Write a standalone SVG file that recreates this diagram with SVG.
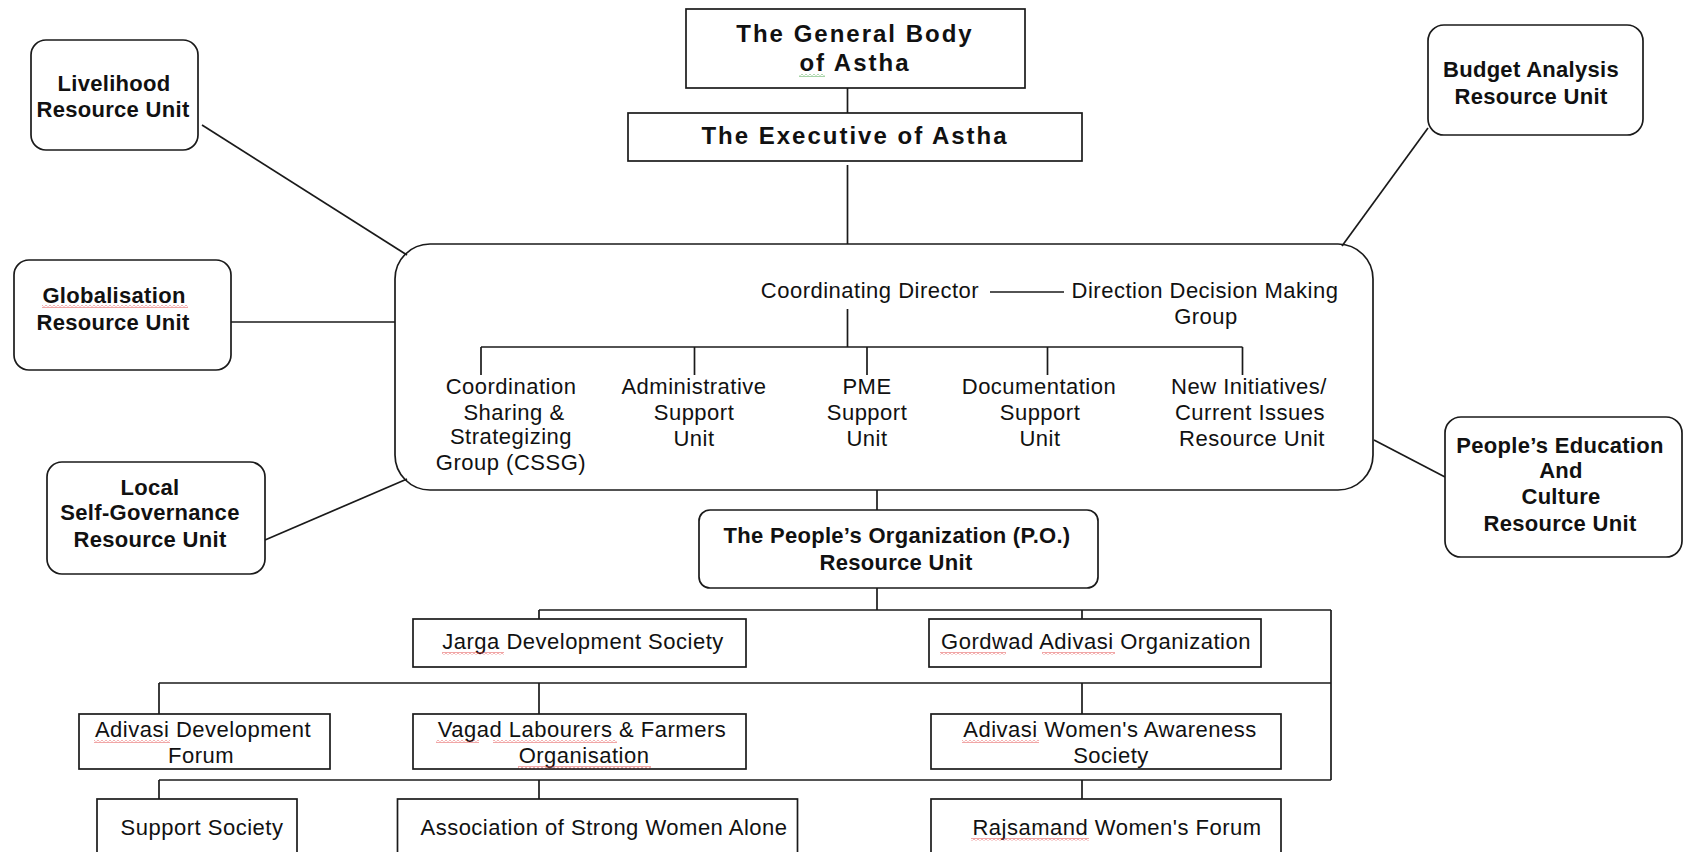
<svg xmlns="http://www.w3.org/2000/svg" width="1686" height="852" viewBox="0 0 1686 852">
<style>
  .box { fill: #fff; stroke: #1a1a1a; stroke-width: 1.7; }
  .ln { fill: none; stroke: #1a1a1a; stroke-width: 1.7; }
  text { font-family: "Liberation Sans", Arial, sans-serif; fill: #111; text-anchor: middle; }
  .b { font-weight: bold; font-size: 22px; letter-spacing: 0.3px; }
  .h { font-weight: bold; font-size: 24px; letter-spacing: 2px; }
  .r { font-size: 22px; letter-spacing: 0.5px; }
  .sq { fill: url(#sqR); }
  .sg { fill: url(#sqG); }
</style>
<defs>
  <pattern id="sqR" patternUnits="userSpaceOnUse" x="0" y="0" width="4" height="3">
    <path d="M0,0.5 L2,2.5 L4,0.5" fill="none" stroke="#e03a3a" stroke-width="0.9"/>
  </pattern>
  <pattern id="sqG" patternUnits="userSpaceOnUse" x="0" y="0" width="4" height="3">
    <path d="M0,0.5 L2,2.5 L4,0.5" fill="none" stroke="#3aa03a" stroke-width="0.9"/>
  </pattern>
</defs>
<rect width="1686" height="852" fill="#fff"/>

<g id="coordination-box">
  <rect class="box" x="395" y="244" width="978" height="246" rx="35"/>
</g>

<g id="connectors">
  <line class="ln" x1="847.5" y1="88" x2="847.5" y2="113"/>
  <line class="ln" x1="847.5" y1="165" x2="847.5" y2="244"/>
  <line class="ln" x1="202" y1="125" x2="407" y2="255"/>
  <line class="ln" x1="231" y1="322" x2="395" y2="322"/>
  <line class="ln" x1="265" y1="540" x2="407" y2="479"/>
  <line class="ln" x1="1428" y1="128" x2="1342" y2="246"/>
  <line class="ln" x1="1374" y1="440" x2="1445" y2="477"/>
  <!-- inside coordinating box -->
  <line class="ln" x1="990" y1="292" x2="1064" y2="292"/>
  <line class="ln" x1="847.5" y1="309" x2="847.5" y2="347"/>
  <line class="ln" x1="481" y1="347" x2="1242.5" y2="347"/>
  <line class="ln" x1="481" y1="347" x2="481" y2="375"/>
  <line class="ln" x1="694.5" y1="347" x2="694.5" y2="375"/>
  <line class="ln" x1="867" y1="347" x2="867" y2="375"/>
  <line class="ln" x1="1047.5" y1="347" x2="1047.5" y2="375"/>
  <line class="ln" x1="1242.5" y1="347" x2="1242.5" y2="375"/>
  <!-- to PO -->
  <line class="ln" x1="877" y1="490" x2="877" y2="510"/>
  <!-- lower tree -->
  <line class="ln" x1="877" y1="588" x2="877" y2="610"/>
  <line class="ln" x1="539" y1="610" x2="1331" y2="610"/>
  <line class="ln" x1="1331" y1="610" x2="1331" y2="780"/>
  <line class="ln" x1="539" y1="610" x2="539" y2="619"/>
  <line class="ln" x1="1082" y1="610" x2="1082" y2="619"/>
  <line class="ln" x1="159" y1="683" x2="1331" y2="683"/>
  <line class="ln" x1="159" y1="683" x2="159" y2="714"/>
  <line class="ln" x1="539" y1="683" x2="539" y2="714"/>
  <line class="ln" x1="1082" y1="683" x2="1082" y2="714"/>
  <line class="ln" x1="159" y1="780" x2="1331" y2="780"/>
  <line class="ln" x1="159" y1="780" x2="159" y2="799"/>
  <line class="ln" x1="539" y1="780" x2="539" y2="799"/>
  <line class="ln" x1="1082" y1="780" x2="1082" y2="799"/>
</g>

<g id="general-body">
  <rect class="box" x="686" y="9" width="339" height="79"/>
  <text class="h" x="855" y="42">The General Body</text>
  <text class="h" x="855" y="71">of Astha</text>
  <rect class="sg" x="799" y="74" width="26" height="3"/>
</g>

<g id="executive">
  <rect class="box" x="628" y="113" width="454" height="48"/>
  <text class="h" x="855" y="144">The Executive of Astha</text>
</g>

<g id="livelihood">
  <rect class="box" x="31" y="40" width="167" height="110" rx="15"/>
  <text class="b" x="114" y="91">Livelihood</text>
  <text class="b" x="113" y="117">Resource Unit</text>
</g>

<g id="globalisation">
  <rect class="box" x="14" y="260" width="217" height="110" rx="15"/>
  <text class="b" x="114" y="303">Globalisation</text>
  <text class="b" x="113" y="330">Resource Unit</text>
  <rect class="sq" x="42" y="305" width="146" height="3"/>
</g>

<g id="local-self-governance">
  <rect class="box" x="47" y="462" width="218" height="112" rx="15"/>
  <text class="b" x="150" y="495">Local</text>
  <text class="b" x="150" y="520">Self-Governance</text>
  <text class="b" x="150" y="547">Resource Unit</text>
</g>

<g id="budget-analysis">
  <rect class="box" x="1428" y="25" width="215" height="110" rx="16"/>
  <text class="b" x="1531" y="77">Budget Analysis</text>
  <text class="b" x="1531" y="104">Resource Unit</text>
</g>

<g id="peoples-education">
  <rect class="box" x="1445" y="417" width="237" height="140" rx="16"/>
  <text class="b" x="1560" y="453">People’s Education</text>
  <text class="b" x="1561" y="478">And</text>
  <text class="b" x="1561" y="504">Culture</text>
  <text class="b" x="1560" y="531">Resource Unit</text>
</g>

<g id="coordinating-director">
  <text class="r" x="870" y="298">Coordinating Director</text>
</g>

<g id="direction-group">
  <text class="r" x="1205" y="298">Direction Decision Making</text>
  <text class="r" x="1206" y="324">Group</text>
</g>

<g id="cssg">
  <text class="r" x="511" y="394">Coordination</text>
  <text class="r" x="514" y="420">Sharing &amp;</text>
  <text class="r" x="511" y="444">Strategizing</text>
  <text class="r" x="511" y="470">Group (CSSG)</text>
</g>

<g id="administrative">
  <text class="r" x="694" y="394">Administrative</text>
  <text class="r" x="694" y="420">Support</text>
  <text class="r" x="694" y="446">Unit</text>
</g>

<g id="pme">
  <text class="r" x="867" y="394">PME</text>
  <text class="r" x="867" y="420">Support</text>
  <text class="r" x="867" y="446">Unit</text>
</g>

<g id="documentation">
  <text class="r" x="1039" y="394">Documentation</text>
  <text class="r" x="1040" y="420">Support</text>
  <text class="r" x="1040" y="446">Unit</text>
</g>

<g id="new-initiatives">
  <text class="r" x="1249" y="394">New Initiatives/</text>
  <text class="r" x="1250" y="420">Current Issues</text>
  <text class="r" x="1252" y="446">Resource Unit</text>
</g>

<g id="peoples-organization">
  <rect class="box" x="699" y="510" width="399" height="78" rx="11"/>
  <text class="b" x="897" y="543">The People’s Organization (P.O.)</text>
  <text class="b" x="896" y="570">Resource Unit</text>
</g>

<g id="jarga">
  <rect class="box" x="413" y="619" width="333" height="48"/>
  <text class="r" x="583" y="649">Jarga Development Society</text>
  <rect class="sq" x="442" y="652" width="62" height="3"/>
</g>

<g id="gordwad">
  <rect class="box" x="929" y="619" width="332" height="48"/>
  <text class="r" x="1096" y="649">Gordwad Adivasi Organization</text>
  <rect class="sq" x="940" y="652" width="66" height="3"/>
  <rect class="sq" x="1042" y="652" width="73" height="3"/>
</g>

<g id="adivasi-development">
  <rect class="box" x="79" y="714" width="251" height="55"/>
  <text class="r" x="203" y="737">Adivasi Development</text>
  <text class="r" x="201" y="763">Forum</text>
  <rect class="sq" x="94" y="740" width="76" height="3"/>
</g>

<g id="vagad">
  <rect class="box" x="413" y="714" width="333" height="55"/>
  <text class="r" x="582" y="737">Vagad Labourers &amp; Farmers</text>
  <text class="r" x="584" y="763">Organisation</text>
  <rect class="sq" x="436" y="740" width="43" height="3"/>
  <rect class="sq" x="493" y="740" width="124" height="3"/>
  <rect class="sq" x="518" y="766" width="133" height="3"/>
</g>

<g id="adivasi-womens">
  <rect class="box" x="931" y="714" width="350" height="55"/>
  <text class="r" x="1110" y="737">Adivasi Women's Awareness</text>
  <text class="r" x="1111" y="763">Society</text>
  <rect class="sq" x="962" y="740" width="77" height="3"/>
</g>

<g id="support-society">
  <rect class="box" x="97" y="799" width="200" height="70"/>
  <text class="r" x="202" y="835">Support Society</text>
</g>

<g id="association">
  <rect class="box" x="397.5" y="799" width="400" height="70"/>
  <text class="r" x="604" y="835">Association of Strong Women Alone</text>
</g>

<g id="rajsamand">
  <rect class="box" x="931" y="799" width="350" height="70"/>
  <text class="r" x="1117" y="835">Rajsamand Women's Forum</text>
  <rect class="sq" x="971" y="838" width="118" height="3"/>
</g>
</svg>
